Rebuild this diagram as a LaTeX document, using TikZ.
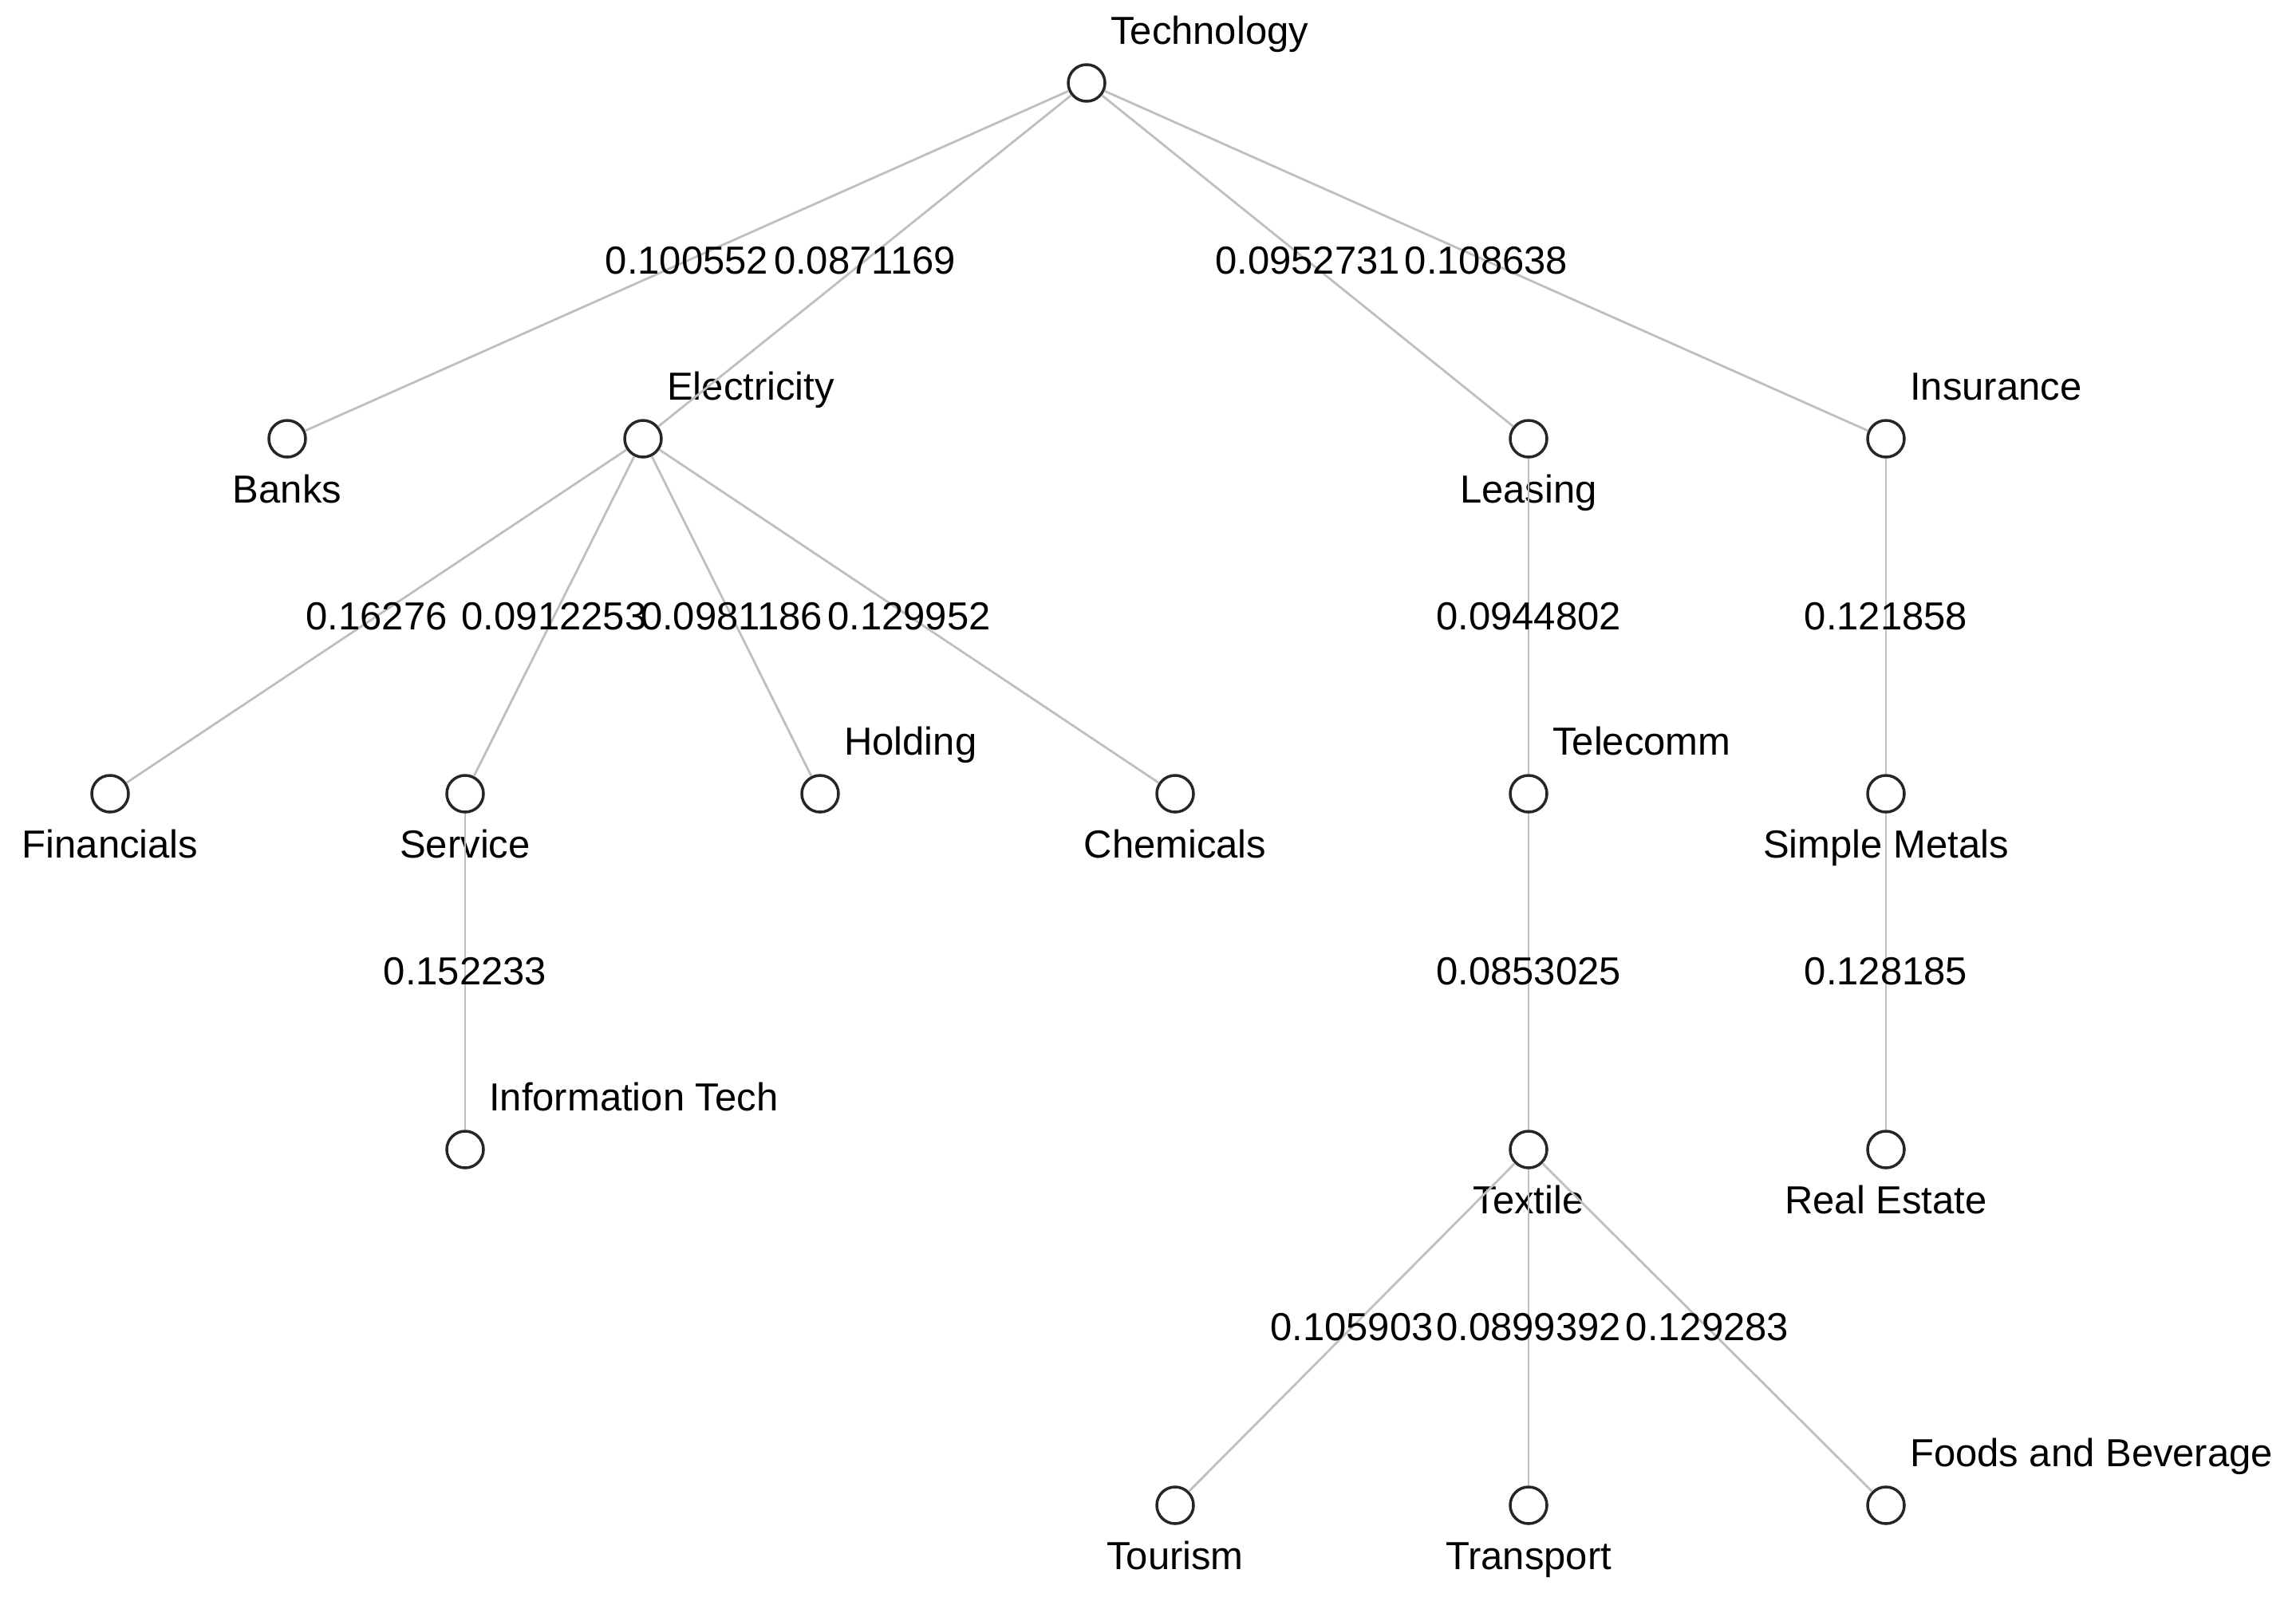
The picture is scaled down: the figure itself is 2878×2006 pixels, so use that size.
\documentclass[tikz,border=0pt]{standalone}
\usepackage{fontspec}
\setmainfont{Liberation Sans}
\begin{document}
\begin{tikzpicture}[x=1pt,y=-1pt,
  vertex/.style={circle,draw=black!85,fill=white,line width=3.5pt,minimum size=46pt,inner sep=0pt},
  edge/.style={draw=black!25,line width=2.8pt},
  txt/.style={font=\fontsize{49}{58}\selectfont,inner sep=0pt},
  wlab/.style={txt,anchor=center},
  labar/.style={txt,anchor=base west},
  labbl/.style={txt,anchor=base}]
\useasboundingbox (0,0) rectangle (2878,2006);
\node[vertex] (tech) at (1362,104) {};
\node[vertex] (banks) at (360,550) {};
\node[vertex] (elec) at (806,550) {};
\node[vertex] (leas) at (1916,550) {};
\node[vertex] (ins) at (2364,550) {};
\node[vertex] (fin) at (138,995) {};
\node[vertex] (serv) at (583,995) {};
\node[vertex] (hold) at (1028,995) {};
\node[vertex] (chem) at (1473,995) {};
\node[vertex] (tele) at (1916,995) {};
\node[vertex] (simp) at (2364,995) {};
\node[vertex] (it) at (583,1441) {};
\node[vertex] (texti) at (1916,1441) {};
\node[vertex] (real) at (2364,1441) {};
\node[vertex] (tour) at (1473,1887) {};
\node[vertex] (trans) at (1916,1887) {};
\node[vertex] (foods) at (2364,1887) {};
% node labels: above-right
\node[labar] (ltech) at ([shift={(30,-49)}]tech.center) {Technology};
\node[labar] (lelec) at ([shift={(30,-49)}]elec.center) {Electricity};
\node[labar] (lins) at ([shift={(30,-49)}]ins.center) {Insurance};
\node[labar] (lhold) at ([shift={(30,-49)}]hold.center) {Holding};
\node[labar] (ltele) at ([shift={(30,-49)}]tele.center) {Telecomm};
\node[labar] (lit) at ([shift={(30,-49)}]it.center) {Information Tech};
\node[labar] (lfoods) at ([shift={(30,-49)}]foods.center) {Foods and Beverage};
% node labels: below
\node[labbl] (lbanks) at ([shift={(0,80)}]banks.center) {Banks};
\node[labbl] (lleas) at ([shift={(0,80)}]leas.center) {Leasing};
\node[labbl] (lfin) at ([shift={(0,80)}]fin.center) {Financials};
\node[labbl] (lserv) at ([shift={(0,80)}]serv.center) {Service};
\node[labbl] (lchem) at ([shift={(0,80)}]chem.center) {Chemicals};
\node[labbl] (lsimp) at ([shift={(0,80)}]simp.center) {Simple Metals};
\node[labbl] (ltexti) at ([shift={(0,80)}]texti.center) {Textile};
\node[labbl] (lreal) at ([shift={(0,80)}]real.center) {Real Estate};
\node[labbl] (ltour) at ([shift={(0,80)}]tour.center) {Tourism};
\node[labbl] (ltrans) at ([shift={(0,80)}]trans.center) {Transport};
% edges
\draw[edge] (tech) -- node[wlab]{0.100552} (banks);
\draw[edge] (tech) -- node[wlab]{0.0871169} (elec);
\draw[edge] (tech) -- node[wlab]{0.0952731} (leas);
\draw[edge] (tech) -- node[wlab]{0.108638} (ins);
\draw[edge] (elec) -- node[wlab]{0.16276} (fin);
\draw[edge] (elec) -- node[wlab]{0.0912253} (serv);
\draw[edge] (elec) -- node[wlab]{0.0981186} (hold);
\draw[edge] (elec) -- node[wlab]{0.129952} (chem);
\draw[edge] (leas) -- node[wlab]{0.0944802} (tele);
\draw[edge] (ins) -- node[wlab]{0.121858} (simp);
\draw[edge] (serv) -- node[wlab]{0.152233} (it);
\draw[edge] (tele) -- node[wlab]{0.0853025} (texti);
\draw[edge] (simp) -- node[wlab]{0.128185} (real);
\draw[edge] (texti) -- node[wlab]{0.105903} (tour);
\draw[edge] (texti) -- node[wlab]{0.0899392} (trans);
\draw[edge] (texti) -- node[wlab]{0.129283} (foods);
\end{tikzpicture}
\end{document}
